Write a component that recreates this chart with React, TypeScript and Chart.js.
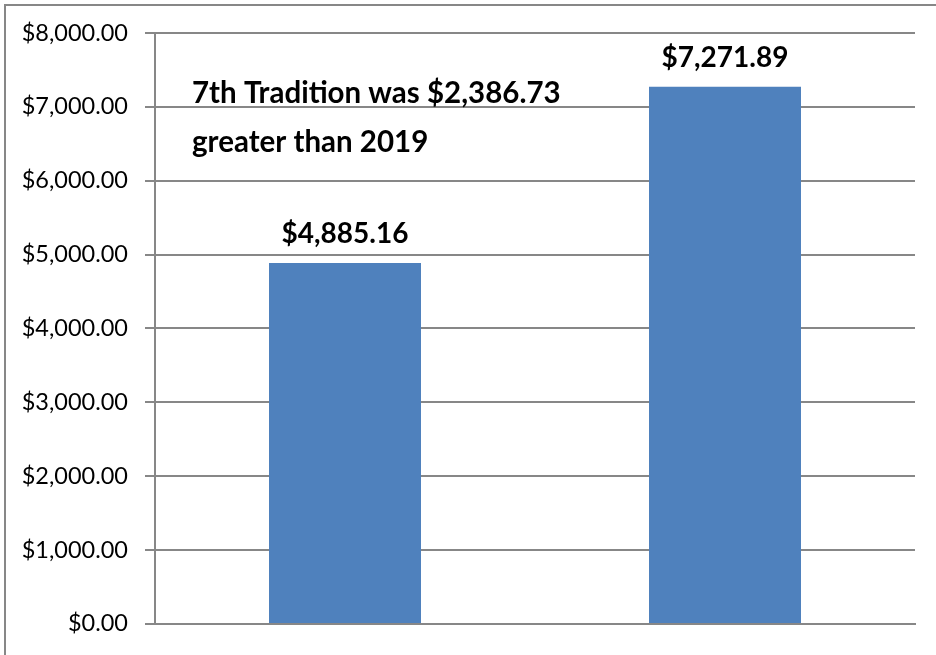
import React, { useEffect, useRef } from "react";
import { Chart, registerables } from "chart.js";

Chart.register(...registerables);

const categories: string[] = ["2019", "2020"];
const values: number[] = [4885.16, 7271.89];
const yTicks: number[] = [0, 1000, 2000, 3000, 4000, 5000, 6000, 7000, 8000];
const annotationLines: string[] = ["7th Tradition was $2,386.73", "greater than 2019"];

const FONT = "Lato, 'Open Sans', sans-serif";
const GRID = "#878787";

const money = (v: number) =>
  "$" + v.toLocaleString("en-US", { minimumFractionDigits: 2, maximumFractionDigits: 2 });

const labelPlugin = {
  id: "labels",
  afterDatasetsDraw(chart: any) {
    const ctx = chart.ctx;
    const meta = chart.getDatasetMeta(0);
    ctx.save();
    ctx.fillStyle = "#000";
    ctx.font = `bold 28px ${FONT}`;
    ctx.textAlign = "center";
    ctx.textBaseline = "alphabetic";
    meta.data.forEach((bar: any, i: number) => {
      ctx.fillText(money(values[i]), bar.x, bar.y - 20);
    });
    const area = chart.chartArea;
    ctx.font = `bold 29.5px ${FONT}`;
    ctx.textAlign = "left";
    annotationLines.forEach((line, i) => {
      ctx.fillText(line, area.left + 37, area.top + 70 + i * 49);
    });
    ctx.restore();
  },
};

export default function App() {
  const ref = useRef<HTMLCanvasElement | null>(null);
  useEffect(() => {
    if (!ref.current) return;
    const chart = new Chart(ref.current, {
      type: "bar",
      data: {
        labels: categories,
        datasets: [
          {
            data: values,
            backgroundColor: "#4F81BD",
            borderWidth: 0,
            barPercentage: 0.4,
            categoryPercentage: 1,
          },
        ],
      },
      options: {
        responsive: false,
        animation: false,
        events: [],
        layout: { padding: { left: 0, top: 33, right: 21, bottom: 29 } },
        plugins: { legend: { display: false }, tooltip: { enabled: false } },
        scales: {
          x: {
            grid: { display: false, drawTicks: false },
            ticks: { display: false },
            border: { display: true, color: GRID, width: 2 },
          },
          y: {
            min: 0,
            max: 8000,
            afterBuildTicks: (s: any) => {
              s.ticks = yTicks.map((v) => ({ value: v }));
            },
            afterFit: (s: any) => {
              s.width = 155;
            },
            ticks: {
              padding: 17,
              color: "#000",
              font: { family: FONT, size: 23.5 },
              callback: (v: any) => money(Number(v)),
            },
            grid: { color: GRID, lineWidth: 2, tickLength: 10, drawTicks: true },
            border: { display: true, color: GRID, width: 2 },
          },
        },
      },
      plugins: [labelPlugin],
    });
    return () => chart.destroy();
  }, []);

  return (
    <div style={{ position: "fixed", left: 0, top: 0, width: 936, height: 655, overflow: "hidden", background: "#fff" }}>
      <canvas ref={ref} width={936} height={655} style={{ position: "absolute", left: 0, top: 0 }} />
      <div
        style={{
          position: "absolute",
          left: 4,
          top: 4,
          width: 1000,
          height: 1000,
          borderLeft: `2px solid ${GRID}`,
          borderTop: `2px solid ${GRID}`,
          pointerEvents: "none",
        }}
      />
    </div>
  );
}
